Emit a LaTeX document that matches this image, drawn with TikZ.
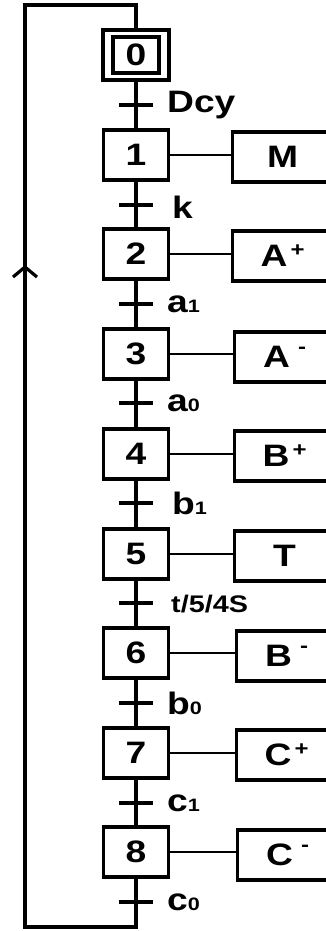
\documentclass[tikz,border=0pt]{standalone}
\usepackage{fontspec}
\setmainfont{Liberation Sans}[FakeStretch=1.2]
\newcommand{\bigf}{\bfseries\fontsize{31}{31}\selectfont}
\newcommand{\subd}[1]{{\fontsize{18}{18}\selectfont #1}}
\newcommand{\supp}[1]{\hspace{3pt}\raisebox{10pt}{\fontsize{20}{20}\selectfont #1}}
\newcommand{\supm}[1]{\hspace{8pt}\raisebox{14pt}{\fontsize{20}{20}\selectfont #1}}
\begin{document}
\begin{tikzpicture}[x=1pt,y=-1pt,
  stepbox/.style={draw, line width=3.2pt, minimum width=65pt, minimum height=50pt, inner sep=0pt, font=\bigf},
  actbox/.style={draw, line width=3.2pt, minimum width=100pt, minimum height=50pt, anchor=west, inner sep=0pt, font=\bigf},
  tlabel/.style={anchor=west, inner sep=0pt, font=\bigf},
  trtick/.style={line width=3.2pt},
  mainline/.style={line width=3.2pt, line join=miter},
  link/.style={line width=2.2pt}]
\useasboundingbox (0,0) rectangle (326,931);
\clip (0,0) rectangle (326,931);
% initial step
\node[draw, line width=3.2pt, minimum width=66pt, minimum height=50pt, inner sep=0pt] (s0) at (136,55) {};
\node[draw, line width=3.2pt, minimum width=46pt, minimum height=36pt, inner sep=0pt, font=\bigf] (s0i) at (136,55) {0};
% steps
\node[stepbox] (s1) at (136,155) {1};
\node[stepbox] (s2) at (136,254) {2};
\node[stepbox] (s3) at (136,354) {3};
\node[stepbox] (s4) at (136,454) {4};
\node[stepbox] (s5) at (136,554) {5};
\node[stepbox] (s6) at (136,653) {6};
\node[stepbox] (s7) at (136,753) {7};
\node[stepbox] (s8) at (136,852) {8};
% actions
\node[actbox] (a1) at (231,157) {M};
\node[actbox] (a2) at (231,256) {A\supp{+}};
\node[actbox] (a3) at (233,357) {A\supm{-}};
\node[actbox] (a4) at (233,456) {B\supp{+}};
\node[actbox] (a5) at (233,556) {T};
\node[actbox] (a6) at (235,656) {B\supm{-}};
\node[actbox] (a7) at (235,755) {C\supp{+}};
\node[actbox] (a8) at (236,855) {C\supm{-}};
\foreach \i in {1,...,8} {\draw[link] (s\i.east) -- (a\i.west |- s\i.east);}
% vertical chain
\draw[mainline] (s0.south) -- (s1.north);
\draw[mainline] (s1.south) -- (s2.north);
\draw[mainline] (s2.south) -- (s3.north);
\draw[mainline] (s3.south) -- (s4.north);
\draw[mainline] (s4.south) -- (s5.north);
\draw[mainline] (s5.south) -- (s6.north);
\draw[mainline] (s6.south) -- (s7.north);
\draw[mainline] (s7.south) -- (s8.north);
% loop back
\coordinate (bot) at (136,927);
\coordinate (bl) at (25,927);
\coordinate (tl) at (25,5);
\coordinate (top) at (136,5);
\draw[mainline] (s8.south) -- (bot) -- (bl) -- (tl) -- (top) -- (s0.north);
\coordinate (arr) at (25,267);
\draw[line width=3.2pt] ([shift={(-12,10)}]arr) -- (arr) -- ([shift={(12,10)}]arr);
% transitions
\foreach \n/\y in {0/105,1/205,2/304,3/403,4/503,5/603,6/703,7/803,8/902} {
  \coordinate (t\n) at (136,\y);
  \draw[trtick] ([xshift=-17pt]t\n) -- ([xshift=17pt]t\n);
}
\node[tlabel] (l0) at (167,105) {Dcy};
\node[tlabel] (l1) at (172,207) {k};
\node[tlabel] (l2) at (167,304) {a\subd{1}};
\node[tlabel] (l3) at (167,403) {a\subd{0}};
\node[tlabel] (l4) at (172,503) {b\subd{1}};
\node[tlabel, font=\bfseries\fontsize{24}{24}\selectfont] (l5) at (171,604) {t/5/4S};
\node[tlabel] (l6) at (167,703) {b\subd{0}};
\node[tlabel] (l7) at (167,803) {c\subd{1}};
\node[tlabel] (l8) at (167,902) {c\subd{0}};
\end{tikzpicture}
\end{document}
